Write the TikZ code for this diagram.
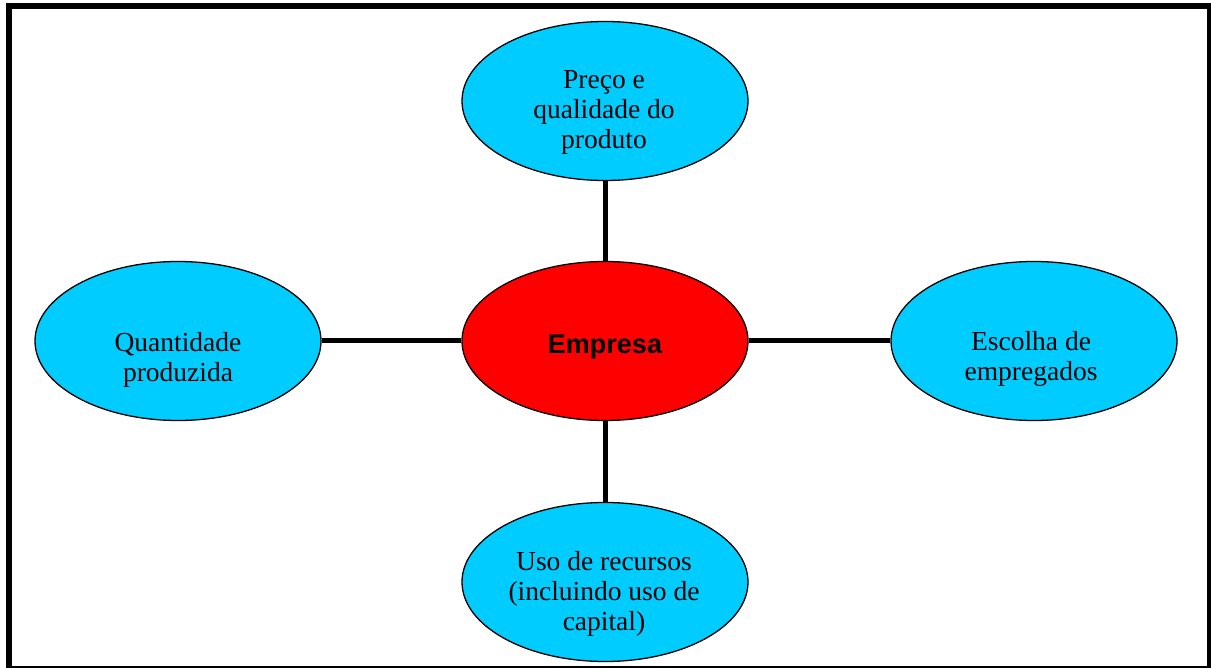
\documentclass[tikz,border=0pt]{standalone}
\usepackage{fontspec}
\setmainfont{Liberation Serif}
\newfontfamily\labelsans{Liberation Sans}
\usetikzlibrary{shapes.geometric}
\definecolor{bubblecyan}{HTML}{00CCFF}
\definecolor{hubred}{HTML}{FF0000}
\tikzset{
  bubble/.style={ellipse, draw=black, line width=1.3pt, fill=bubblecyan,
    minimum width=286pt, minimum height=159pt, inner sep=0pt},
  hub/.style={bubble, fill=hubred},
  txt/.style={align=center, inner sep=0pt, anchor=base,
    font=\fontsize{27.5}{30}\selectfont},
  hubtxt/.style={inner sep=0pt, anchor=base,
    font=\labelsans\bfseries\fontsize{27}{30}\selectfont},
  conn/.style={draw=black, line width=5pt},
  frame/.style={draw=black, line width=6pt}
}
\begin{document}
\begin{tikzpicture}[x=1pt, y=-1pt]
\useasboundingbox (0,0) rectangle (1211,668);
\clip (0,0) rectangle (1211,668);
\fill[white] (0,0) rectangle (1211,668);
\draw[frame] (9,6) rectangle (1210,669);

\node[bubble] (top) at (605,101) {};
\node[hub] (ctr) at (605,341) {};
\node[bubble] (left) at (178,341) {};
\node[bubble] (right) at (1034,341) {};
\node[bubble] (bot) at (605,582) {};

\draw[conn] (top) -- (ctr);
\draw[conn] (left) -- (ctr);
\draw[conn] (ctr) -- (right);
\draw[conn] (ctr) -- (bot);

\node[txt] (ttop) at (604,149) {Preço e\\qualidade do\\produto};
\node[txt] (tleft) at (178,382) {Quantidade\\produzida};
\node[txt] (tright) at (1031,381) {Escolha de\\empregados};
\node[txt] (tbot) at (604,630) {Uso de recursos\\(incluindo uso de\\capital)};
\node[hubtxt] (tctr) at (605,354) {Empresa};
\end{tikzpicture}
\end{document}
